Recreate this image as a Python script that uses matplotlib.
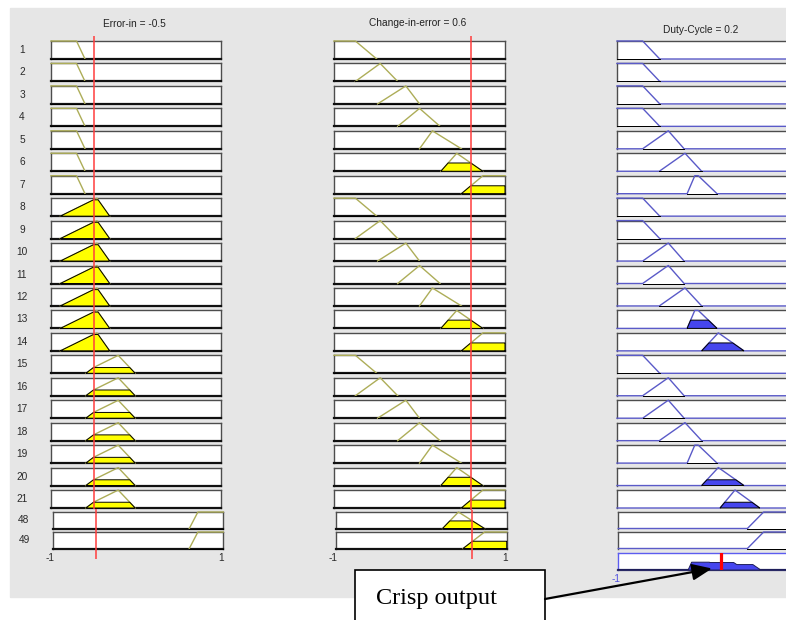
import numpy as np
import matplotlib
matplotlib.use('Agg')
import matplotlib.pyplot as plt
from matplotlib.patches import Rectangle, FancyArrowPatch

plt.rcParams['font.family'] = ['Liberation Sans', 'DejaVu Sans']

W, H = 786, 620

# crisp inputs and the defuzzified output
error_in = -0.5
change_in_error = 0.6
duty_cycle = 0.2

# membership functions: (breakpoints, grades) on the universe [-1, 1]
err_mfs = [
    ([-1.0, -0.70, -0.60], [1, 1, 0]),
    ([-0.89, -0.46, -0.31], [0, 1, 0]),
    ([-0.59, -0.50, -0.21, -0.01], [0, 0.32, 1, 0]),
    ([0.60, 0.70, 1.0], [0, 1, 1]),
]
ce_mfs = [
    ([-1.0, -0.75, -0.50], [1, 1, 0]),
    ([-0.75, -0.46, -0.255], [0, 1, 0]),
    ([-0.49, -0.16, 0.0], [0, 1, 0]),
    ([-0.255, 0.0, 0.24], [0, 1, 0]),
    ([0.0, 0.15, 0.49], [0, 1, 0]),
    ([0.25, 0.435, 0.74], [0, 1, 0]),
    ([0.49, 0.74, 1.0], [0, 1, 1]),
]
duty_mfs = [
    ([-1.0, -0.70, -0.50], [1, 1, 0]),
    ([-0.70, -0.40, -0.215], [0, 1, 0]),
    ([-0.505, -0.205, -0.01], [0, 1, 0]),
    ([-0.18, -0.09, -0.05, 0.17], [0, 1, 1, 0]),
    ([-0.01, 0.185, 0.485], [0, 1, 0]),
    ([0.205, 0.38, 0.67], [0, 1, 0]),
    ([0.51, 0.70, 1.0], [0, 1, 1]),
]

# rule base shown in the viewer
rule_ids = list(range(1, 22)) + [48, 49]
rule_err = [0] * 7 + [1] * 7 + [2] * 7 + [3, 3]
rule_ce = [0, 1, 2, 3, 4, 5, 6] * 3 + [5, 6]
rule_duty = [0, 0, 0, 0, 1, 2, 3,
             0, 0, 1, 1, 2, 3, 4,
             0, 1, 1, 2, 3, 4, 5,
             6, 6]

OLIVE = '#adad58'
YELLOW = '#ffff00'
BLUE_LINE = '#5a5ac8'
BLUE_FILL = '#4646ee'
RED = '#ff3d3d'

fig = plt.figure(figsize=(W / 100, H / 100), dpi=100, facecolor='white')
fig.patches.append(Rectangle((10 / W, 1 - 597 / H), 776 / W, 589 / H,
                             transform=fig.transFigure, color='#e6e6e6', zorder=-1))


def mu(mf, x):
    xs, ys = mf
    return np.interp(x, xs, ys, left=ys[0], right=ys[-1])


def box(left, top, width, height):
    ax = fig.add_axes([left / W, 1 - (top + height) / H, width / W, height / H])
    ax.set_xlim(-1, 1)
    ax.set_ylim(0, 1)
    ax.set_xticks([])
    ax.set_yticks([])
    for s in ax.spines.values():
        s.set_color('#4d4d4d')
        s.set_linewidth(1.0)
    ax.spines['bottom'].set_color('#111111')
    ax.spines['bottom'].set_linewidth(1.6)
    return ax


def draw_mf(ax, mf, level, line_color, fill_color, full=False):
    xs, ys = mf
    lo = xs[0] if ys[0] == 0 else -1
    hi = xs[-1] if ys[-1] == 0 else 1
    if full:
        xl = np.linspace(-1, 1, 801)
    else:
        xl = np.linspace(-1 if ys[0] else xs[0], 1 if ys[-1] else xs[-1], 400)
    ax.plot(xl, mu(mf, xl), color=line_color, lw=1.0, zorder=3, clip_on=False)
    xg = np.linspace(lo, hi, 400)
    yg = np.minimum(mu(mf, xg), level)
    ax.fill(np.r_[xg, xg[::-1]], np.r_[yg, np.zeros_like(yg)],
            facecolor=fill_color, edgecolor='black', lw=0.7, zorder=4, clip_on=False)


row_tops = [41 + i * 22.45 for i in range(21)] + [512, 532]
row_h = [18] * 21 + [16.5, 16.5]
lefts_main = [51, 334, 617]
lefts_low = [53.3, 335.7, 618.3]
widths = [170, 171, 171]

grid = np.linspace(-1, 1, 1601)
aggregate = np.zeros_like(grid)

for i, rid in enumerate(rule_ids):
    top, h = row_tops[i], row_h[i]
    lefts = lefts_main if rid <= 21 else lefts_low
    mu_e = float(mu(err_mfs[rule_err[i]], error_in))
    mu_c = float(mu(ce_mfs[rule_ce[i]], change_in_error))
    fire = min(mu_e, mu_c)

    ax = box(lefts[0], top, widths[0], h)
    draw_mf(ax, err_mfs[rule_err[i]], mu_e, OLIVE, YELLOW)
    ax = box(lefts[1], top, widths[1], h)
    draw_mf(ax, ce_mfs[rule_ce[i]], mu_c, OLIVE, YELLOW)
    ax = box(lefts[2], top, widths[2], h)
    ax.spines['bottom'].set_visible(False)
    draw_mf(ax, duty_mfs[rule_duty[i]], fire, BLUE_LINE, BLUE_FILL, full=True)

    aggregate = np.maximum(aggregate, np.minimum(mu(duty_mfs[rule_duty[i]], grid), fire))

    fig.text((22 if rid <= 21 else 24) / W, 1 - (top + h / 2) / H, str(rid),
             ha='center', va='center', fontsize=7.3, color='#2a2a2a')

# aggregated output with the crisp value
agg = box(618, 553, 171, 17)
for s in agg.spines.values():
    s.set_color('#5c5cf0')
agg.spines['bottom'].set_color('#2a2a66')
agg.fill(np.r_[grid, grid[::-1]], np.r_[aggregate, np.zeros_like(aggregate)],
         facecolor=BLUE_FILL, edgecolor='#1e1e5a', lw=0.7, zorder=3)
agg.plot([duty_cycle, duty_cycle], [0, 1], color='#ff0000', lw=2.3, zorder=5)


def guide(left, top, width, bottom, value):
    ax = fig.add_axes([left / W, 1 - bottom / H, width / W, (bottom - top) / H])
    ax.set_xlim(-1, 1)
    ax.set_ylim(0, 1)
    ax.axis('off')
    ax.axvline(value, color=RED, lw=1.1)


guide(51, 36, 170, 509, error_in)
guide(53.3, 509, 169, 559, error_in)
guide(334, 36, 171, 510, change_in_error)
guide(335.7, 510, 170, 559, change_in_error)

# titles
fig.text(134.7 / W, 1 - 24 / H, f'Error-in = {error_in:g}', ha='center', va='center',
         fontsize=7.3, color='#222222')
fig.text(418 / W, 1 - 23.5 / H, f'Change-in-error = {change_in_error:g}', ha='center',
         va='center', fontsize=7.3, color='#222222')
fig.text(700.5 / W, 1 - 30 / H, f'Duty-Cycle = {duty_cycle:g}', ha='center', va='center',
         fontsize=7.3, color='#222222')

# range labels
for x, s in [(50.5, '-1'), (221.5, '1'), (333, '-1'), (505, '1')]:
    fig.text(x / W, 1 - 558 / H, s, ha='center', va='center', fontsize=7.3, color='#2a2a2a')
fig.text(616.5 / W, 1 - 579 / H, '-1', ha='center', va='center', fontsize=7.3, color='#5050e0')

# callout
fig.patches.append(Rectangle((355 / W, 1 - 640 / H), 190 / W, 70 / H, transform=fig.transFigure,
                             facecolor='white', edgecolor='black', lw=1.2, zorder=2))
fig.text(437 / W, 1 - 604 / H, 'Crisp output', ha='center', va='baseline', fontsize=17.5,
         family=['Liberation Serif', 'DejaVu Serif'], color='black', zorder=3)
fig.add_artist(FancyArrowPatch((545 / W, 1 - 599 / H), (712 / W, 1 - 568.5 / H),
                               transform=fig.transFigure,
                               arrowstyle='-|>,head_length=0.6,head_width=0.25',
                               mutation_scale=20, lw=1.6, color='black',
                               shrinkA=0, shrinkB=0, zorder=6))

fig.savefig('out.png', dpi=100)
